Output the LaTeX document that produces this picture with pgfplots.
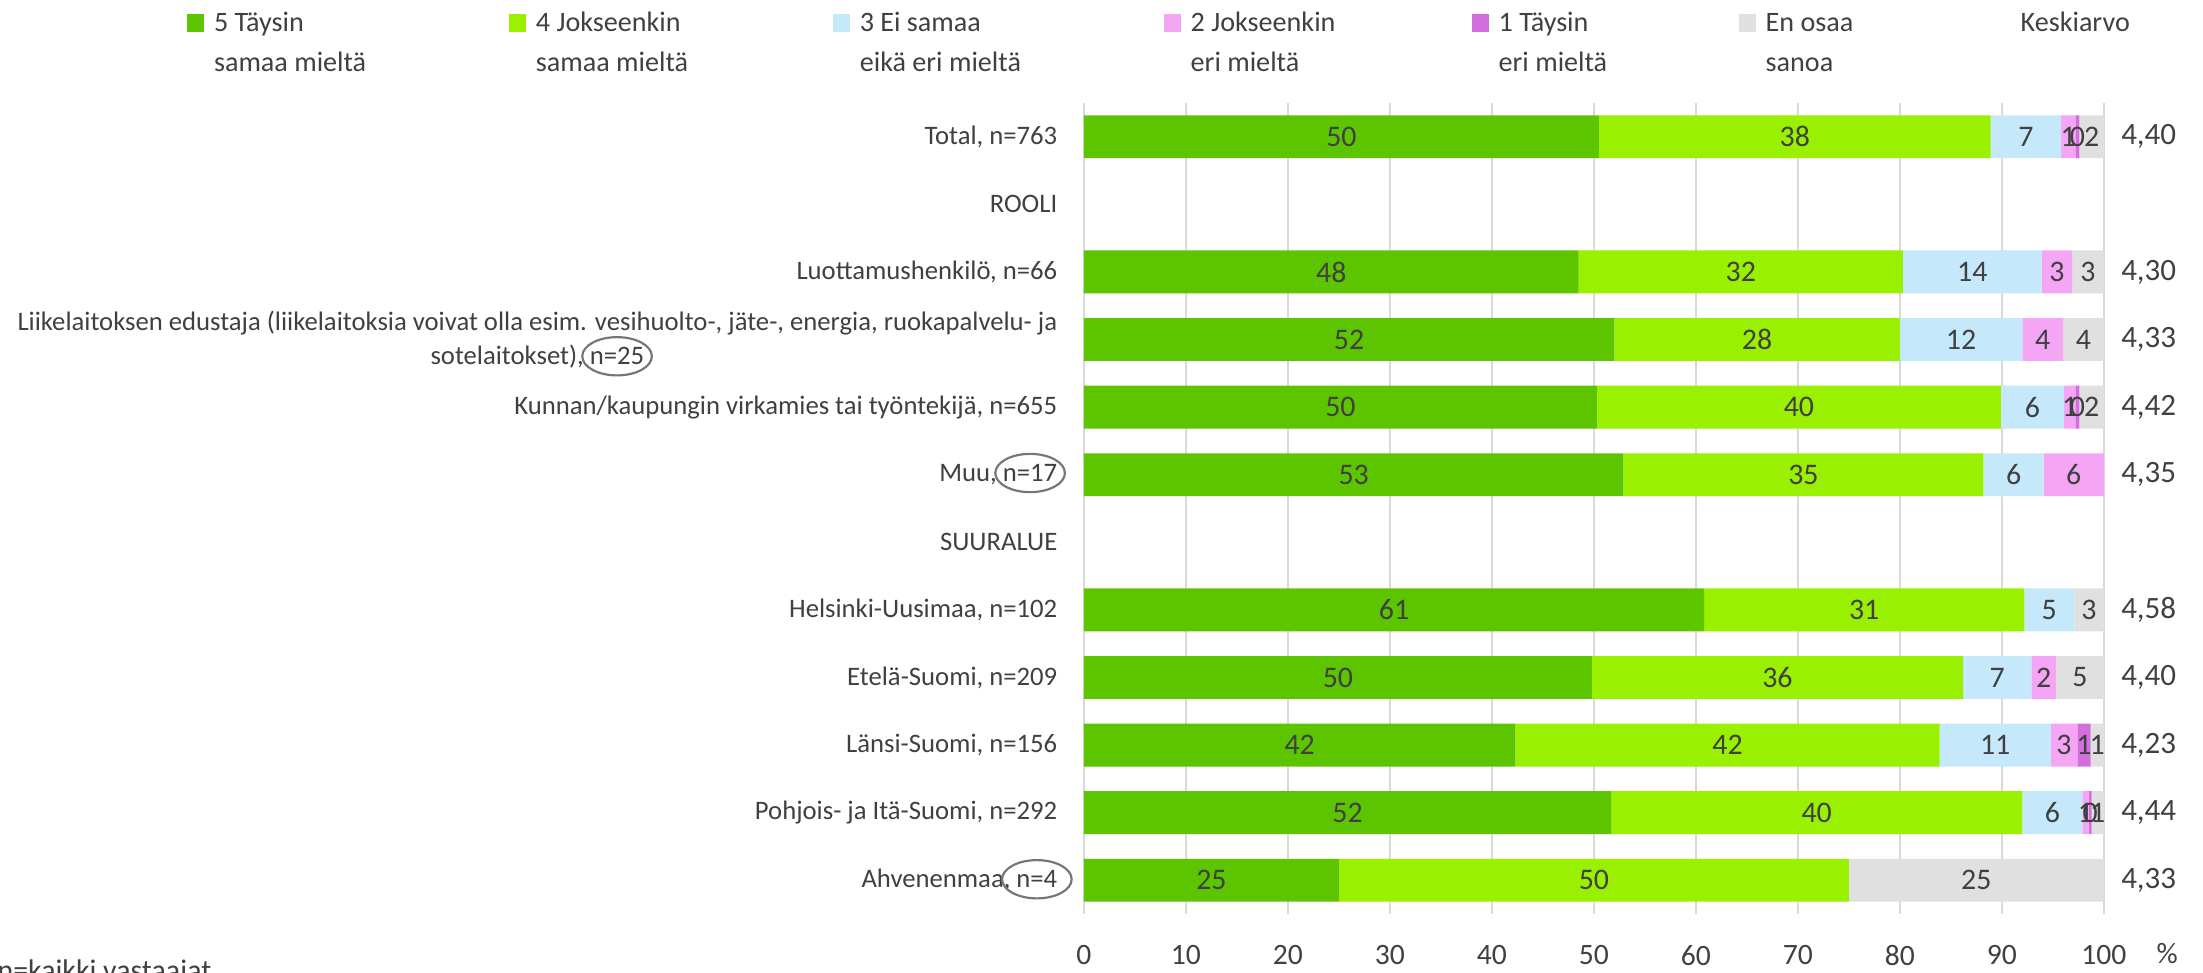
\documentclass[border=0pt]{standalone}
\usepackage{pgfplots}
\pgfplotsset{compat=1.18}
\usepackage{fontspec}
\setmainfont{Carlito}
\definecolor{c5}{HTML}{5CC500}
\definecolor{c4}{HTML}{99F000}
\definecolor{c3}{HTML}{C5E8FB}
\definecolor{c2}{HTML}{F4A6F5}
\definecolor{c1}{HTML}{D36EDF}
\definecolor{c0}{HTML}{E0E0E0}
\definecolor{txt}{HTML}{404040}
\definecolor{gridc}{HTML}{D9D9D9}
\definecolor{ell}{HTML}{767676}
\newcommand{\catfont}{\fontsize{9.2}{12}\selectfont}
\newcommand{\ticfont}{\fontsize{10.2}{12}\selectfont}
\newcommand{\datfont}{\fontsize{10.3}{12}\selectfont}
\newcommand{\keyfont}{\fontsize{10.7}{12}\selectfont}
\newcommand{\legfont}{\fontsize{9.7}{13.8}\selectfont}
\newcommand{\nn}[1]{\tikz[baseline=(nn.base)]{\node[inner sep=0pt,outer sep=0pt,anchor=base,text=txt](nn){#1};\draw[overlay,draw=ell,line width=0.75pt](nn.center) ellipse [x radius=12pt,y radius=6.6pt];}}
\newcommand{\lt}[3]{\makebox[#1][l]{\begin{tabular}[t]{@{}l@{}}#2\\#3\end{tabular}}}
\begin{document}
\begin{tikzpicture}[x=1pt,y=1pt]
\useasboundingbox (0,0) rectangle (759.7,-335.5);
\begin{axis}[
  at={(373.8pt,-315.2pt)}, anchor=south west,
  scale only axis, width=351.7pt, height=279.7pt,
  xbar stacked, bar width=14.8pt,
  xmin=0, xmax=100, ymin=-0.5, ymax=11.5, y dir=reverse,
  axis line style={draw=none},
  tick style={draw=none},
  xmajorgrids, major grid style={draw=gridc, line width=0.7pt},
  xtick={0,10,...,100},
  xticklabel style={font=\ticfont, text=txt, inner sep=0pt, anchor=north, yshift=-10.7pt},
  /pgf/number format/assume math mode=true,
  ytick={0,...,11},
  yticklabels={
    {Total, n=763},
    {ROOLI},
    {Luottamushenkilö, n=66},
    {Liikelaitoksen edustaja (liikelaitoksia voivat olla esim. vesihuolto-, jäte-, energia, ruokapalvelu- ja\\sotelaitokset), \nn{n=25}},
    {Kunnan/kaupungin virkamies tai työntekijä, n=655},
    {Muu, \nn{n=17}},
    {SUURALUE},
    {Helsinki-Uusimaa, n=102},
    {Etelä-Suomi, n=209},
    {Länsi-Suomi, n=156},
    {Pohjois- ja Itä-Suomi, n=292},
    {Ahvenenmaa, \nn{n=4}}},
  yticklabel style={font=\catfont, text=txt, align=center, inner sep=0pt, anchor=east, xshift=-9pt},
  clip=false,
  point meta=explicit symbolic,
  nodes near coords,
  every node near coord/.append style={anchor=center, font=\datfont, text=txt},
  legend style={draw=none, fill=none, inner sep=0pt, outer sep=0pt,
    at={(-0.8794,1.1223)}, anchor=north west, legend columns=-1,
    /tikz/every odd column/.append style={column sep=3.4pt},
    nodes={inner sep=0pt, text=txt, font=\legfont, anchor=base west}},
  legend image code/.code={\fill[#1] (0pt,0pt) rectangle (5.9pt,6.2pt);},
]
\addplot[fill=c5, draw=none] coordinates {
 (50.5,0) [50] (48.5,2) [48] (52,3) [52] (50.3,4) [50] (52.9,5) [53]
 (60.8,7) [61] (49.8,8) [50] (42.3,9) [42] (51.7,10) [52] (25,11) [25]};
\addlegendentry{\lt{101.7pt}{5 Täysin}{samaa mieltä}}
\addplot[fill=c4, draw=none] coordinates {
 (38.4,0) [38] (31.8,2) [32] (28,3) [28] (39.6,4) [40] (35.3,5) [35]
 (31.4,7) [31] (36.4,8) [36] (41.6,9) [42] (40.3,10) [40] (50,11) [50]};
\addlegendentry{\lt{102.4pt}{4 Jokseenkin}{samaa mieltä}}
\addplot[fill=c3, draw=none] coordinates {
 (6.9,0) [7] (13.6,2) [14] (12,3) [12] (6.2,4) [6] (5.9,5) [6]
 (4.9,7) [5] (6.7,8) [7] (10.9,9) [11] (5.9,10) [6] (0,11) []};
\addlegendentry{\lt{104.8pt}{3 Ei samaa}{eikä eri mieltä}}
\addplot[fill=c2, draw=none] coordinates {
 (1.4,0) [1] (3.0,2) [3] (4,3) [4] (1.1,4) [1] (5.9,5) [6]
 (0,7) [] (2.4,8) [2] (2.6,9) [3] (0.6,10) [1] (0,11) []};
\addlegendentry{\lt{96.9pt}{2 Jokseenkin}{eri mieltä}}
\addplot[fill=c1, draw=none] coordinates {
 (0.4,0) [0] (0,2) [] (0,3) [] (0.4,4) [0] (0,5) []
 (0,7) [] (0,8) [] (1.3,9) [1] (0.3,10) [0] (0,11) []};
\addlegendentry{\lt{82.8pt}{1 Täysin}{eri mieltä}}
\addplot[fill=c0, draw=none] coordinates {
 (2.4,0) [2] (3.1,2) [3] (4,3) [4] (2.4,4) [2] (0,5) []
 (2.9,7) [3] (4.7,8) [5] (1.3,9) [1] (1.2,10) [1] (25,11) [25]};
\addlegendentry{\lt{84.5pt}{En osaa}{sanoa}}
\addlegendimage{empty legend}
\addlegendentry{Keskiarvo}
\node[font=\keyfont, text=txt] at (axis cs:104.4,0) {4,40};
\node[font=\keyfont, text=txt] at (axis cs:104.4,2) {4,30};
\node[font=\keyfont, text=txt] at (axis cs:104.4,3) {4,33};
\node[font=\keyfont, text=txt] at (axis cs:104.4,4) {4,42};
\node[font=\keyfont, text=txt] at (axis cs:104.4,5) {4,35};
\node[font=\keyfont, text=txt] at (axis cs:104.4,7) {4,58};
\node[font=\keyfont, text=txt] at (axis cs:104.4,8) {4,40};
\node[font=\keyfont, text=txt] at (axis cs:104.4,9) {4,23};
\node[font=\keyfont, text=txt] at (axis cs:104.4,10) {4,44};
\node[font=\keyfont, text=txt] at (axis cs:104.4,11) {4,33};
\node[font=\ticfont, text=txt] at (axis cs:106.2,12.09) {\%};
\end{axis}
\node[anchor=base west, inner sep=0pt, font=\datfont, text=txt] at (-1,-338) {n=kaikki vastaajat};
\end{tikzpicture}
\end{document}
